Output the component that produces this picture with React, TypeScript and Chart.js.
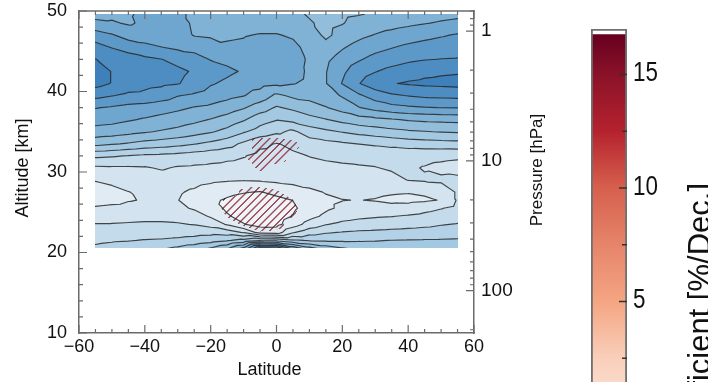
import React, { useEffect, useRef } from 'react';
import { Chart, registerables } from 'chart.js';

Chart.register(...registerables);

const FONT = "'Liberation Sans', Arial, Helvetica, sans-serif";

// ---------- data ----------
const latitudes = [-55, -50, -45, -40, -35, -30, -25, -20, -15, -10, -5, 0, 5, 10, 15, 20, 25, 30, 35, 40, 45, 50, 55];
const altitudes = [49.6, 48.5, 47, 45.5, 44, 42.5, 41, 39.5, 38, 36.5, 35, 33.5, 32, 30.5, 29, 27.5, 26.5, 25.5, 24.5, 23.5, 22.5, 21.5, 20.5];

// field values (contour level units) per altitude row, west to east
const t49_6 = [7.7, 7.8, 7.95, 8.1, 8.2, 8.1, 7.9, 7.7, 7.55, 7.5, 7.45, 7.4, 7.25, 6.9, 6.6, 6.85, 6.95, 7.1, 7.25, 7.4, 7.55, 7.7, 7.8];
const t48_5 = [8.2, 8.1, 7.9, 8.15, 8.35, 8.25, 7.9, 7.75, 7.6, 7.6, 7.65, 7.65, 7.45, 7.1, 6.75, 6.95, 7.3, 7.5, 7.65, 7.8, 7.95, 8.1, 8.2];
const t47_0 = [9.5, 9.1, 8.55, 8.45, 8.5, 8.4, 7.95, 7.85, 7.9, 7.95, 8.05, 8.05, 7.9, 7.5, 6.8, 7.35, 7.75, 8.05, 8.3, 8.5, 8.7, 8.9, 9.1];
const t45_5 = [10.35, 9.95, 9.65, 9.3, 9.02, 8.8, 8.7, 8.5, 8.1, 8.15, 8.35, 8.35, 8.2, 7.75, 7.35, 7.9, 8.35, 8.7, 8.95, 9.2, 9.4, 9.55, 9.65];
const t44_0 = [11.02, 10.75, 10.4, 10.2, 10.02, 9.7, 9.35, 8.95, 8.75, 8.55, 8.5, 8.5, 8.3, 7.9, 7.8, 8.4, 8.9, 9.3, 9.55, 9.8, 9.95, 10.02, 10.05];
const t42_5 = [11.6, 10.95, 10.65, 10.5, 10.35, 10.2, 9.9, 9.5, 9.2, 8.9, 8.6, 8.55, 8.35, 7.85, 7.95, 8.8, 9.55, 9.95, 10.3, 10.55, 10.75, 10.85, 10.9];
const t41_0 = [11.35, 10.95, 10.55, 10.3, 10.2, 10.05, 9.7, 9.1, 8.8, 8.5, 8.35, 8.2, 8.05, 7.8, 7.95, 9.05, 9.95, 10.6, 10.95, 11.1, 11.2, 11.25, 11.3];
const t39_5 = [10.3, 10.05, 9.8, 9.75, 9.5, 9.05, 8.85, 8.55, 8.3, 8.05, 7.6, 6.8, 7.2, 7.3, 7.55, 8.1, 8.85, 9.45, 9.85, 10.05, 10.2, 10.25, 10.3];
const t38_0 = [9.05, 8.9, 8.7, 8.6, 8.4, 8.2, 7.95, 7.8, 7.5, 7.1, 6.5, 5.9, 6.2, 6.6, 6.95, 7.4, 7.95, 8.4, 8.7, 8.85, 8.95, 9.02, 9.05];
const t36_5 = [8.4, 8.3, 8.1, 7.9, 7.7, 7.5, 7.25, 6.95, 6.6, 6.1, 5.4, 5.05, 5.3, 5.65, 5.95, 6.3, 6.6, 6.75, 6.9, 7.1, 7.2, 7.25, 7.3];
const t35_0 = [7.6, 7.5, 7.3, 7.1, 6.9, 6.7, 6.4, 6.1, 5.7, 5.1, 4.6, 4.2, 3.8, 4.5, 4.8, 5.05, 5.3, 5.5, 5.7, 5.85, 5.95, 6.05, 6.1];
const t33_5 = [6.3, 6.1, 5.9, 5.65, 5.5, 5.3, 5.05, 4.75, 4.4, 3.8, 3.2, 2.95, 3.2, 3.5, 3.7, 3.85, 4.02, 4.15, 4.3, 4.45, 4.55, 4.6, 4.65];
const t32_0 = [4.2, 4.1, 3.95, 3.8, 3.75, 3.65, 3.5, 3.35, 3.2, 3.05, 2.75, 2.7, 2.85, 3.02, 3.1, 3.15, 3.2, 3.25, 3.3, 3.3, 3.25, 3.2, 3.15];
const t30_5 = [2.8, 2.85, 2.85, 2.9, 3.1, 2.9, 2.85, 2.8, 2.75, 2.7, 2.6, 2.6, 2.65, 2.75, 2.85, 2.9, 2.93, 2.97, 3.08, 3.12, 2.95, 2.8, 2.7];
const t29_0 = [2.05, 2.2, 2.35, 2.45, 2.5, 2.45, 2.35, 2.2, 2.1, 2.05, 2.1, 2.2, 2.3, 2.4, 2.5, 2.6, 2.65, 2.7, 2.8, 3.02, 3.1, 3.15, 3.2];
const t27_5 = [1.6, 1.75, 1.98, 2.15, 2.2, 2.1, 1.85, 1.5, 1.2, 1.05, 0.95, 1.25, 1.5, 1.8, 2.05, 2.2, 2.25, 2.2, 2.1, 2.05, 2.15, 2.5, 3.1];
const t26_5 = [1.65, 1.75, 1.95, 2.05, 2.1, 2.02, 1.7, 1.15, 0.9, 0.7, 0.6, 0.75, 1.02, 1.5, 1.85, 1.98, 2.02, 1.95, 1.8, 1.75, 1.85, 2.05, 3.1];
const t25_5 = [2.1, 2.2, 2.25, 2.3, 2.3, 2.2, 1.9, 1.4, 0.85, 0.55, 0.45, 0.55, 0.85, 1.4, 1.85, 2.15, 2.35, 2.35, 2.3, 2.4, 2.7, 2.95, 3.3];
const t24_5 = [2.5, 2.6, 2.65, 2.7, 2.7, 2.6, 2.4, 1.9, 1.1, 0.7, 0.55, 0.6, 1.05, 1.7, 2.2, 2.6, 2.8, 2.9, 2.97, 3.1, 3.25, 3.45, 3.6];
const t23_5 = [3.05, 3.05, 3.1, 3.15, 3.15, 3.1, 2.95, 2.6, 1.9, 1.05, 0.7, 0.75, 1.5, 2.4, 2.95, 3.25, 3.4, 3.5, 3.6, 3.7, 3.8, 3.95, 4.05];
const t22_5 = [3.4, 3.45, 3.5, 3.55, 3.55, 3.6, 3.65, 3.7, 3.5, 2.9, 1.6, 1.5, 2.9, 3.6, 3.9, 4.05, 4.15, 4.2, 4.25, 4.3, 4.35, 4.4, 4.45];
const t21_5 = [3.8, 3.9, 3.95, 4.05, 4.1, 4.2, 4.35, 4.6, 4.9, 5.3, 5.9, 5.8, 5.2, 4.9, 4.85, 4.85, 4.9, 4.95, 5.02, 5.05, 5.08, 5.1, 5.15];
const t20_5 = [4.2, 4.35, 4.5, 4.7, 4.9, 5.2, 5.6, 6.1, 6.9, 8.3, 11.2, 11.0, 8.8, 7.4, 6.6, 6.1, 5.8, 5.65, 5.55, 5.5, 5.45, 5.45, 5.45];

const trendGrid = [t49_6, t48_5, t47_0, t45_5, t44_0, t42_5, t41_0, t39_5, t38_0, t36_5, t35_0, t33_5, t32_0,
  t30_5, t29_0, t27_5, t26_5, t25_5, t24_5, t23_5, t22_5, t21_5, t20_5];

// significance (0..9) per altitude row, hatched where > 4.5
const significanceRows = [
  '00000000000000000000000', '00000000000000000000000', '00000000000000000000000', '00000000000000000000000',
  '00000000000000000000000', '00000000000000000000000', '00000000000000000000000', '00000000000000000000000',
  '00000000000000000000000', '00000000000000000000000', '00000000000000000000000',
  '00000000009970000000000', // 33.5
  '00000000049930000000000', // 32
  '00000000006200000000000', // 30.5
  '00000000000000000000000', // 29
  '00000000068600000000000', // 27.5
  '00000000699950000000000', // 26.5
  '00000000799960000000000', // 25.5
  '00000000599950000000000', // 24.5
  '00000000069800000000000', // 23.5
  '00000000004300000000000', // 22.5
  '00000000000000000000000', '00000000000000000000000',
];

const contourLevels = [1, 2, 3, 4, 5, 6, 7, 8, 9, 10, 11];
const bandColors = ['#eef4f8', '#e0ebf3', '#d3e4f0', '#c4dbeb', '#b4d2e7', '#a3c8e2', '#92bedc', '#80b2d6',
  '#6ea6cf', '#5d99c8', '#4d8dc2', '#3d80ba', '#3075b2'];
const hatchColor = '#973c49';

const latitudeTicks = [-60, -40, -20, 0, 20, 40, 60];
const altitudeTicks = [10, 20, 30, 40, 50];
const pressureTicks = [1, 10, 100];
const latitudeMinorStep = 5;
const altitudeMinorStep = 2;

const colorbarTicks = [2.5, 5, 7.5, 10, 12.5, 15];
const colorbarLabels = [5, 10, 15];
const colorbarValues = [0, 2.5, 5, 7.5, 10, 12.5, 15, 16.75];
const colorbarColors = ['#fde6da', '#f9cfba', '#f4a582', '#e6846a', '#d6604d', '#b5222e', '#8a1228', '#67001f'];
const colorbarMax = 16.75;
const colorbarFrameTop = 17;
const colorbarTitle = 'Coefficient [%/Dec.]';

// ---------- helpers ----------
const AXIS = '#6b6b6b';

function hexToRgb(h: string): number[] {
  return [parseInt(h.slice(1, 3), 16), parseInt(h.slice(3, 5), 16), parseInt(h.slice(5, 7), 16)];
}

function locate(arr: number[], v: number): [number, number] {
  const n = arr.length;
  for (let k = 0; k < n - 1; k++) {
    const a = arr[k], b = arr[k + 1];
    if ((v - a) * (v - b) <= 0) return [k, (v - a) / (b - a)];
  }
  const asc = arr[n - 1] > arr[0];
  if ((v < arr[0]) === asc) return [0, 0];
  return [n - 2, 1];
}

function triInterp(g: number[][], i: number, j: number, u: number, v: number): number {
  const a = g[j][i], b = g[j][i + 1], c = g[j + 1][i], d = g[j + 1][i + 1];
  return u >= v ? a + u * (b - a) + v * (d - b) : a + v * (c - a) + u * (d - c);
}

function triSegment(ctx: CanvasRenderingContext2D, p: number[][], t: number) {
  const pts: number[][] = [];
  const edges = [[0, 1], [1, 2], [2, 0]];
  for (const [k0, k1] of edges) {
    const A = p[k0], B = p[k1];
    const va = A[2] - t, vb = B[2] - t;
    if ((va < 0) !== (vb < 0)) {
      const f = va / (va - vb);
      pts.push([A[0] + f * (B[0] - A[0]), A[1] + f * (B[1] - A[1])]);
    }
  }
  if (pts.length === 2) {
    ctx.moveTo(pts[0][0], pts[0][1]);
    ctx.lineTo(pts[1][0], pts[1][1]);
  }
}

const contourPlugin = {
  id: 'contourField',
  afterDatasetsDraw(chart: any) {
    const { ctx } = chart;
    const xs = chart.scales.x, ys = chart.scales.y;
    const nx = latitudes.length, ny = altitudes.length;
    const X0 = Math.round(xs.getPixelForValue(latitudes[0]));
    const X1 = Math.round(xs.getPixelForValue(latitudes[nx - 1]));
    const Y0 = Math.round(ys.getPixelForValue(altitudes[0]));
    const Y1 = Math.round(ys.getPixelForValue(altitudes[ny - 1]));
    const W = X1 - X0, H = Y1 - Y0;
    if (W <= 0 || H <= 0) return;
    const sigGrid = significanceRows.map((s) => s.split('').map(Number));
    const off = document.createElement('canvas');
    off.width = W; off.height = H;
    const octx = off.getContext('2d') as CanvasRenderingContext2D;
    const img = octx.createImageData(W, H);
    const cols: [number, number][] = [];
    const rows: [number, number][] = [];
    for (let px = 0; px < W; px++) cols.push(locate(latitudes, xs.getValueForPixel(X0 + px + 0.5)));
    for (let py = 0; py < H; py++) rows.push(locate(altitudes, ys.getValueForPixel(Y0 + py + 0.5)));
    const rgb = bandColors.map(hexToRgb);
    const hRgb = hexToRgb(hatchColor);
    const P = 7.7;
    for (let py = 0; py < H; py++) {
      const [j, v] = rows[py];
      for (let px = 0; px < W; px++) {
        const [i, u] = cols[px];
        const val = triInterp(trendGrid, i, j, u, v);
        let band = Math.floor(val);
        if (band < 0) band = 0;
        if (band > rgb.length - 1) band = rgb.length - 1;
        let [r, g, b] = rgb[band];
        const sig = triInterp(sigGrid, i, j, u, v) / 9;
        if (sig > 0.5) {
          const X = X0 + px + 0.5, Y = Y0 + py + 0.5;
          const s = (((X + Y) % P) + P) % P;
          const d = Math.min(s, P - s) / Math.SQRT2;
          const a = Math.max(0, Math.min(1, (1.0 - d) / 0.6)) * 0.9;
          r = r + (hRgb[0] - r) * a; g = g + (hRgb[1] - g) * a; b = b + (hRgb[2] - b) * a;
        }
        const o = (py * W + px) * 4;
        img.data[o] = r; img.data[o + 1] = g; img.data[o + 2] = b; img.data[o + 3] = 255;
      }
    }
    octx.putImageData(img, 0, 0);
    ctx.save();
    ctx.drawImage(off, X0, Y0);
    ctx.beginPath();
    ctx.rect(X0, Y0, W, H);
    ctx.clip();
    ctx.beginPath();
    const xp = latitudes.map((l) => xs.getPixelForValue(l));
    const yp = altitudes.map((a) => ys.getPixelForValue(a));
    for (let j = 0; j < ny - 1; j++) {
      for (let i = 0; i < nx - 1; i++) {
        const A = [xp[i], yp[j], trendGrid[j][i]];
        const B = [xp[i + 1], yp[j], trendGrid[j][i + 1]];
        const C = [xp[i], yp[j + 1], trendGrid[j + 1][i]];
        const D = [xp[i + 1], yp[j + 1], trendGrid[j + 1][i + 1]];
        for (const lv of contourLevels) {
          triSegment(ctx, [A, B, D], lv);
          triSegment(ctx, [A, C, D], lv);
        }
      }
    }
    ctx.strokeStyle = 'rgba(40,40,40,0.85)';
    ctx.lineWidth = 1.15;
    ctx.lineCap = 'round';
    ctx.stroke();
    ctx.restore();
  },
};

function line(ctx: CanvasRenderingContext2D, x1: number, y1: number, x2: number, y2: number) {
  ctx.moveTo(x1, y1);
  ctx.lineTo(x2, y2);
}

const frameTicksPlugin = {
  id: 'frameTicks',
  afterDraw(chart: any) {
    const { ctx, chartArea: ca } = chart;
    const xs = chart.scales.x, ys = chart.scales.y, ps = chart.scales.y2;
    ctx.save();
    ctx.strokeStyle = AXIS;
    ctx.lineWidth = 1.5;
    ctx.beginPath();
    line(ctx, ca.left - 0.75, ca.top, ca.right + 0.75, ca.top);
    ctx.stroke();
    ctx.lineWidth = 1.2;
    ctx.beginPath();
    for (let v = xs.min; v <= xs.max; v += latitudeMinorStep) {
      const x = xs.getPixelForValue(v);
      const len = latitudeTicks.includes(v) ? 8 : 4;
      line(ctx, x, ca.bottom, x, ca.bottom - len);
      line(ctx, x, ca.top, x, ca.top + len);
    }
    for (let v = ys.min; v <= ys.max; v += altitudeMinorStep) {
      const y = ys.getPixelForValue(v);
      const len = altitudeTicks.includes(v) ? 8 : 4;
      line(ctx, ca.left, y, ca.left + len, y);
    }
    for (let e = -1; e <= 3; e++) {
      for (let m = 1; m <= 9; m++) {
        const p = m * Math.pow(10, e);
        if (p < ps.min || p > ps.max) continue;
        const y = ps.getPixelForValue(p);
        const len = pressureTicks.includes(p) ? 8 : 4;
        line(ctx, ca.right - len, y, ca.right, y);
      }
    }
    ctx.stroke();

    ctx.fillStyle = '#111';
    ctx.textAlign = 'center';
    ctx.textBaseline = 'middle';
    ctx.font = `18px ${FONT}`;
    ctx.fillText('Latitude', (ca.left + ca.right) / 2 - 7, 370);
    ctx.save();
    ctx.translate(23, (ca.top + ca.bottom) / 2 - 4);
    ctx.rotate(-Math.PI / 2);
    ctx.fillText('Altitude [km]', 0, 0);
    ctx.restore();
    ctx.font = `17px ${FONT}`;
    ctx.save();
    ctx.translate(537, (ca.top + ca.bottom) / 2 - 2);
    ctx.rotate(-Math.PI / 2);
    ctx.fillText('Pressure [hPa]', 0, 0);
    ctx.restore();
    ctx.restore();
  },
};

const colorbarDecorPlugin = {
  id: 'colorbarDecor',
  afterDraw(chart: any) {
    const { ctx, chartArea: ca } = chart;
    const ys = chart.scales.y;
    ctx.save();
    ctx.strokeStyle = '#333';
    ctx.lineWidth = 1.5;
    ctx.beginPath();
    for (const v of colorbarTicks) {
      const y = ys.getPixelForValue(v);
      const len = colorbarLabels.includes(v) ? 8 : 5;
      line(ctx, ca.right - len, y, ca.right, y);
    }
    ctx.stroke();
    ctx.fillStyle = '#111';
    ctx.font = `28px ${FONT}`;
    ctx.textAlign = 'left';
    ctx.textBaseline = 'middle';
    for (const v of colorbarLabels) {
      const y = ys.getPixelForValue(v);
      ctx.save();
      ctx.translate(ca.right + 6, y - 1);
      ctx.scale(0.8, 1);
      ctx.fillText(String(v), 0, 0);
      ctx.restore();
    }
    ctx.font = `31px ${FONT}`;
    ctx.textAlign = 'right';
    ctx.textBaseline = 'alphabetic';
    ctx.translate(150, 183);
    ctx.rotate(-Math.PI / 2);
    ctx.fillText(colorbarTitle, 0, 0);
    ctx.restore();
  },
};

function fmtLat(v: any) {
  const n = Number(v);
  return n < 0 ? '\u2212' + Math.abs(n) : String(n);
}

function fixVertical(width: number) {
  return (s: any) => {
    s.width = width;
    s.paddingTop = 0;
    s.paddingBottom = 0;
  };
}

export default function App() {
  const mainRef = useRef<HTMLCanvasElement>(null);
  const barRef = useRef<HTMLCanvasElement>(null);

  useEffect(() => {
    const tickFont = { family: FONT, size: 18 };
    const main = new Chart(mainRef.current as HTMLCanvasElement, {
      type: 'scatter',
      data: { datasets: [] },
      options: {
        responsive: false,
        animation: false,
        layout: { padding: { top: 11, left: 0, right: 0, bottom: 0 } },
        plugins: { legend: { display: false }, tooltip: { enabled: false } },
        scales: {
          x: {
            type: 'linear', min: -60, max: 60,
            afterBuildTicks: (s: any) => { s.ticks = latitudeTicks.map((v) => ({ value: v })); },
            afterFit: (s: any) => { s.height = 49; s.paddingLeft = 0; s.paddingRight = 0; },
            ticks: { callback: fmtLat, font: tickFont, color: '#111', padding: 3, maxRotation: 0, autoSkip: false },
            grid: { display: false, drawTicks: false },
            border: { display: true, color: AXIS, width: 1.5 },
          },
          y: {
            type: 'linear', position: 'left', min: 10, max: 50,
            afterBuildTicks: (s: any) => { s.ticks = altitudeTicks.map((v) => ({ value: v })); },
            afterFit: fixVertical(79),
            ticks: { font: tickFont, color: '#111', padding: 12, autoSkip: false },
            grid: { display: false, drawTicks: false },
            border: { display: true, color: AXIS, width: 1.5 },
          },
          y2: {
            type: 'logarithmic', position: 'right', reverse: true, min: 0.748, max: 211.9,
            afterBuildTicks: (s: any) => { s.ticks = pressureTicks.map((v) => ({ value: v })); },
            afterFit: fixVertical(86),
            ticks: { callback: (v: any) => String(v), font: { family: FONT, size: 19 }, color: '#111', padding: 7, autoSkip: false },
            grid: { display: false, drawTicks: false },
            border: { display: true, color: AXIS, width: 1.5 },
          },
        },
      },
      plugins: [contourPlugin, frameTicksPlugin],
    } as any);

    const bar = new Chart(barRef.current as HTMLCanvasElement, {
      type: 'bar',
      data: {
        labels: [''],
        datasets: [
          {
            data: [[0, colorbarFrameTop]],
            backgroundColor: 'rgba(0,0,0,0)',
            borderColor: '#707070',
            borderWidth: 1.5,
            borderSkipped: false,
            barPercentage: 1,
            categoryPercentage: 1,
            grouped: false,
            order: 0,
          },
          {
            data: [[0, colorbarMax]],
            backgroundColor: (c: any) => {
              const ch = c.chart;
              if (!ch.chartArea) return 'rgba(0,0,0,0)';
              const ys = ch.scales.y;
              const g = ch.ctx.createLinearGradient(0, ys.getPixelForValue(0), 0, ys.getPixelForValue(colorbarMax));
              colorbarValues.forEach((v, k) => g.addColorStop(v / colorbarMax, colorbarColors[k]));
              return g;
            },
            borderWidth: 0,
            barPercentage: 1,
            categoryPercentage: 1,
            grouped: false,
            order: 1,
          },
        ],
      },
      options: {
        responsive: false,
        animation: false,
        layout: { padding: { top: 29, left: 31, bottom: 45, right: 0 } },
        plugins: { legend: { display: false }, tooltip: { enabled: false } },
        scales: {
          x: { type: 'category', display: false },
          y: {
            type: 'linear', position: 'right', min: 0, max: colorbarFrameTop,
            afterBuildTicks: (s: any) => { s.ticks = colorbarTicks.map((v) => ({ value: v })); },
            afterFit: fixVertical(81),
            ticks: { display: false },
            grid: { display: false, drawTicks: false },
            border: { display: false },
          },
        },
      },
      plugins: [colorbarDecorPlugin],
    } as any);

    return () => {
      main.destroy();
      bar.destroy();
    };
  }, []);

  return (
    <div style={{ position: 'fixed', left: 0, top: 0, width: 708, height: 382, overflow: 'hidden', background: '#fff' }}>
      <canvas ref={mainRef} width={560} height={382} style={{ position: 'absolute', left: 0, top: 0, width: 560, height: 382 }} />
      <canvas ref={barRef} width={148} height={460} style={{ position: 'absolute', left: 560, top: 0, width: 148, height: 460 }} />
    </div>
  );
}
